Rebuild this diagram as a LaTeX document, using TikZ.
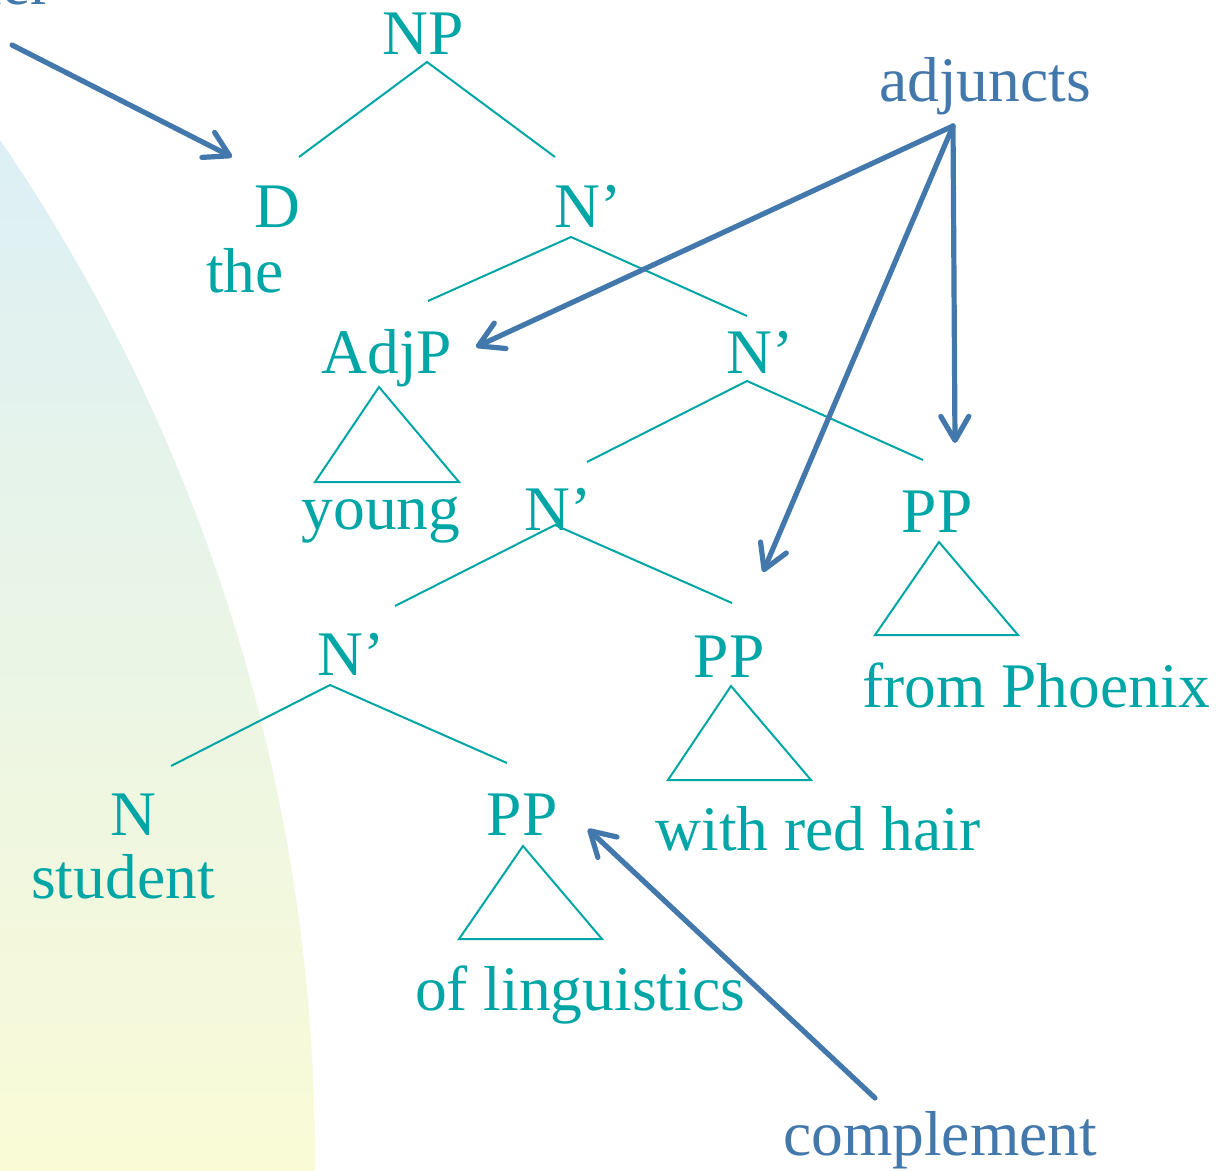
\documentclass[tikz,border=0pt]{standalone}
\usepackage{fontspec}
\setmainfont{Liberation Serif}
\usetikzlibrary{arrows.meta}
\definecolor{tealc}{RGB}{0,166,166}
\definecolor{bluec}{RGB}{66,120,171}
\definecolor{shadetop}{RGB}{216,238,249}
\definecolor{shademid}{RGB}{232,245,234}
\definecolor{shadebot}{RGB}{250,251,214}
\begin{document}
\begin{tikzpicture}[x=0.5pt,y=-0.5pt,
  lbl/.style={inner sep=0pt, anchor=base, font=\fontsize{31.75pt}{38pt}\selectfont},
  cat/.style={lbl, text=tealc},
  note/.style={lbl, text=bluec},
  branch/.style={draw=tealc, line width=1pt},
  roof/.style={draw=tealc, line width=1pt, line join=miter},
  pointer/.style={draw=bluec, line width=2.6pt, line cap=round,
    -{Straight Barb[length=12pt,width=14pt,line cap=round,line join=round]}}]
\useasboundingbox (0,0) rectangle (1218,1170);
\clip (0,0) rectangle (1218,1170);
% background shaded disc
\begin{scope}
  \clip (-1500,1162) circle [radius=1815];
  \shade[top color=shadetop, middle color=shademid, bottom color=shadebot] (-10,-10) rectangle (340,1180);
\end{scope}
% labels
\node[note, anchor=base east] (spec) at (52,5) {specifier};
\node[note] (adj) at (985,102) {adjuncts};
\node[note] (comp) at (940,1155) {complement};
\node[cat] (np) at (423,55) {NP};
\node[cat] (d) at (277,228) {D};
\node[cat] (the) at (245,293) {the};
\node[cat] (nb1) at (588,228) {N’};
\node[cat] (adjp) at (387,373) {AdjP};
\node[cat] (nb2) at (760,373) {N’};
\node[cat] (young) at (381,529) {young};
\node[cat] (nb3) at (558,530) {N’};
\node[cat] (pp1) at (937,532) {PP};
\node[cat] (phx) at (1036,707) {from Phoenix};
\node[cat] (nb4) at (351,675) {N’};
\node[cat] (pp2) at (729,677) {PP};
\node[cat] (hair) at (818,850) {with red hair};
\node[cat] (n) at (133,835) {N};
\node[cat] (stu) at (123,898) {student};
\node[cat] (pp3) at (522,835) {PP};
\node[cat] (ling) at (580,1010) {of linguistics};
% branch points
\coordinate (np-t) at (427,62);  \coordinate (np-l) at (299,157);  \coordinate (np-r) at (555,157);
\coordinate (nb1-t) at (571,237); \coordinate (nb1-l) at (428,301); \coordinate (nb1-r) at (747,316);
\coordinate (nb2-t) at (747,381); \coordinate (nb2-l) at (587,462); \coordinate (nb2-r) at (923,460);
\coordinate (nb3-t) at (555,525); \coordinate (nb3-l) at (395,606); \coordinate (nb3-r) at (732,603);
\coordinate (nb4-t) at (330,685); \coordinate (nb4-l) at (171,766); \coordinate (nb4-r) at (507,763);
\draw[branch] (np-l) -- (np-t) -- (np-r);
\draw[branch] (nb1-l) -- (nb1-t) -- (nb1-r);
\draw[branch] (nb2-l) -- (nb2-t) -- (nb2-r);
\draw[branch] (nb3-l) -- (nb3-t) -- (nb3-r);
\draw[branch] (nb4-l) -- (nb4-t) -- (nb4-r);
% roofs
\coordinate (r1-t) at (379,387); \coordinate (r1-l) at (315,482); \coordinate (r1-r) at (459,482);
\coordinate (r2-t) at (939,542); \coordinate (r2-l) at (875,635); \coordinate (r2-r) at (1018,635);
\coordinate (r3-t) at (731,686); \coordinate (r3-l) at (668,780); \coordinate (r3-r) at (811,780);
\coordinate (r4-t) at (523,846); \coordinate (r4-l) at (459,939); \coordinate (r4-r) at (602,939);
\draw[roof] (r1-t) -- (r1-l) -- (r1-r) -- cycle;
\draw[roof] (r2-t) -- (r2-l) -- (r2-r) -- cycle;
\draw[roof] (r3-t) -- (r3-l) -- (r3-r) -- cycle;
\draw[roof] (r4-t) -- (r4-l) -- (r4-r) -- cycle;
% pointers
\coordinate (spec-s) at (12,45);   \coordinate (d-tip) at (232,157);
\coordinate (adj-s) at (953,126);
\coordinate (adjp-tip) at (476,347);
\coordinate (pp2-tip) at (763,572);
\coordinate (pp1-tip) at (955,443);
\coordinate (comp-s) at (875,1098); \coordinate (pp3-tip) at (588,829);
\draw[pointer] (spec-s) -- (d-tip);
\draw[pointer] (adj-s) -- (adjp-tip);
\draw[pointer] (adj-s) -- (pp2-tip);
\draw[pointer] (adj-s) -- (pp1-tip);
\draw[pointer] (comp-s) -- (pp3-tip);
\end{tikzpicture}
\end{document}
